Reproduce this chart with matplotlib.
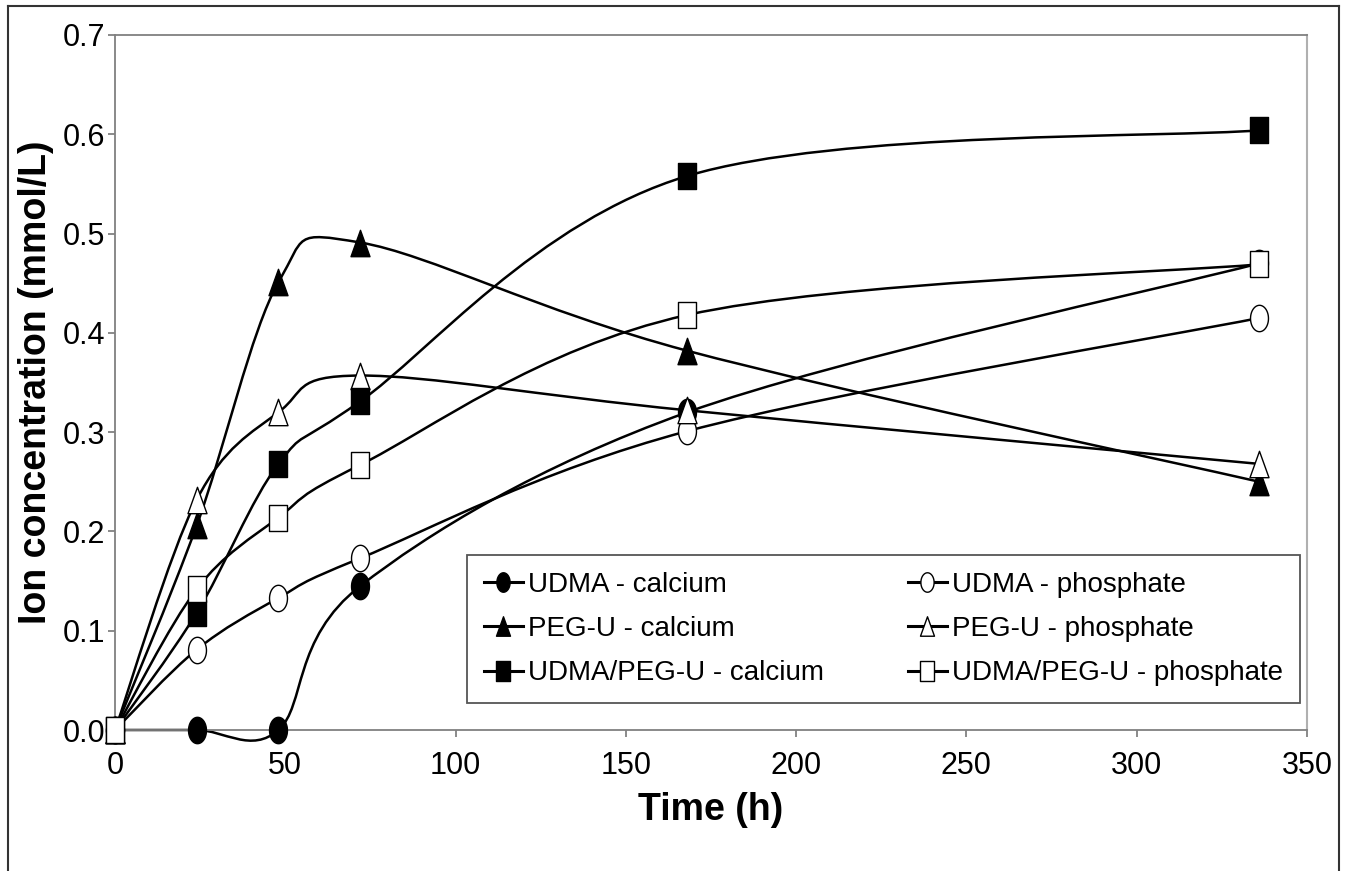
"""Ion release over time for UDMA, PEG-U and UDMA/PEG-U (Excel-style smoothed lines)"""
import matplotlib
matplotlib.use('Agg')
import matplotlib.pyplot as plt
import numpy as np
from matplotlib.path import Path
from matplotlib.patches import PathPatch
from matplotlib.lines import Line2D
from matplotlib import font_manager

# time points (h)
time_h = [0, 24, 48, 72, 168, 336]

udma_ca = [0.0, 0.0, 0.0, 0.145, 0.32, 0.47]
udma_p = [0.0, 0.081, 0.133, 0.173, 0.301, 0.415]
pegu_ca = [0.0, 0.206, 0.451, 0.491, 0.382, 0.25]
pegu_p = [0.0, 0.232, 0.32, 0.357, 0.322, 0.268]
blend_ca = [0.0, 0.118, 0.268, 0.331, 0.558, 0.604]
blend_p = [0.0, 0.142, 0.214, 0.267, 0.418, 0.469]

labels = ['UDMA - calcium', 'UDMA - phosphate',
          'PEG-U - calcium', 'PEG-U - phosphate',
          'UDMA/PEG-U - calcium', 'UDMA/PEG-U - phosphate']

x_ticks = [0, 50, 100, 150, 200, 250, 300, 350]
y_ticks = [0.0, 0.1, 0.2, 0.3, 0.4, 0.5, 0.6, 0.7]

installed = {f.name for f in font_manager.fontManager.ttflist}
FONT = 'Liberation Sans' if 'Liberation Sans' in installed else 'DejaVu Sans'
plt.rcParams['font.family'] = FONT


def tall_marker(kind):
    # markers in the source are stretched vertically
    w = 0.34
    if kind == 'o':
        t = np.linspace(0, 2 * np.pi, 60)
        verts = np.column_stack([w * np.cos(t), 0.5 * np.sin(t)])
    elif kind == 's':
        verts = [(-w, -0.5), (w, -0.5), (w, 0.5), (-w, 0.5), (-w, -0.5)]
    else:
        verts = [(-w - 0.02, -0.5), (w + 0.02, -0.5), (0, 0.5), (-w - 0.02, -0.5)]
    return Path(verts, closed=True)


def smooth_path(xs, ys):
    # Catmull-Rom style bezier, like Excel's "smoothed line"
    pts = np.column_stack([xs, ys]).astype(float)
    n = len(pts)
    verts = [pts[0]]
    codes = [Path.MOVETO]
    for i in range(n - 1):
        p0 = pts[i - 1] if i > 0 else pts[i]
        p1 = pts[i]
        p2 = pts[i + 1]
        p3 = pts[i + 2] if i + 2 < n else pts[i + 1]
        c1 = p1 + (p2 - p0) / 6.0
        c2 = p2 - (p3 - p1) / 6.0
        verts += [c1, c2, p2]
        codes += [Path.CURVE4] * 3
    return Path(verts, codes)


series = [
    (udma_ca, 'o', 'black'),
    (udma_p, 'o', 'white'),
    (pegu_ca, '^', 'black'),
    (pegu_p, '^', 'white'),
    (blend_ca, 's', 'black'),
    (blend_p, 's', 'white'),
]

fig = plt.figure(figsize=(13.63, 8.71), dpi=100)
ax = fig.add_axes([115 / 1363, 1 - 730 / 871, 1192 / 1363, 695 / 871])

for vals, mk, face in series:
    patch = PathPatch(smooth_path(time_h, vals), facecolor='none',
                      edgecolor='black', lw=1.8, zorder=2, clip_on=False)
    ax.add_patch(patch)

for vals, mk, face in series:
    ax.plot(time_h, vals, linestyle='none', marker=tall_marker(mk), ms=19,
            mfc=face, mec='black', mew=1.0, zorder=3, clip_on=False)

ax.set_xlim(0, 350)
ax.set_ylim(0, 0.7)
ax.set_xticks(x_ticks)
ax.set_xticklabels([str(v) for v in x_ticks])
ax.set_yticks(y_ticks)
ax.set_yticklabels(['%.1f' % v for v in y_ticks])
ax.tick_params(direction='out', length=5, width=1.2, color='#777777',
               labelsize=22, pad=2)
ax.tick_params(axis='x', pad=10)
for side in ['left', 'bottom', 'top']:
    ax.spines[side].set_color('#808080')
    ax.spines[side].set_linewidth(1.3)
ax.spines['right'].set_color('#b0b0b0')
ax.spines['right'].set_linewidth(1.5)

ax.set_xlabel('Time (h)', fontsize=27, fontweight='bold', labelpad=8)
ax.set_ylabel('Ion concentration (mmol/L)', fontsize=27, fontweight='bold', labelpad=6)

# legend: Excel reads row-wise, matplotlib fills column-first
order = [0, 2, 4, 1, 3, 5]
handles = []
for i in order:
    vals, mk, face = series[i]
    handles.append(Line2D([], [], color='black', lw=2.2, marker=tall_marker(mk), ms=14,
                          mfc=face, mec='black', mew=1.0, label=labels[i]))
leg = ax.legend(handles=handles, ncol=2, loc='lower left',
                bbox_to_anchor=(352 / 1192, 27 / 695, 833 / 1192, 148 / 695),
                mode='expand', fontsize=20, frameon=True, fancybox=False,
                edgecolor='#555555', framealpha=1, handlelength=1.4,
                handletextpad=0.2, labelspacing=0.66, borderpad=0.6,
                borderaxespad=0, columnspacing=1.0)
leg.get_frame().set_linewidth(1.3)

# outer chart frame (no bottom edge visible in the source)
fx0, fx1, fy1 = 8 / 1363, 1339 / 1363, 1 - 6 / 871
for xs, ys in [([fx0, fx0], [-0.01, fy1]), ([fx0, fx1], [fy1, fy1]), ([fx1, fx1], [fy1, -0.01])]:
    fig.add_artist(Line2D(xs, ys, transform=fig.transFigure, color='#333333', lw=1.5))

fig.savefig('out.png', dpi=100)
